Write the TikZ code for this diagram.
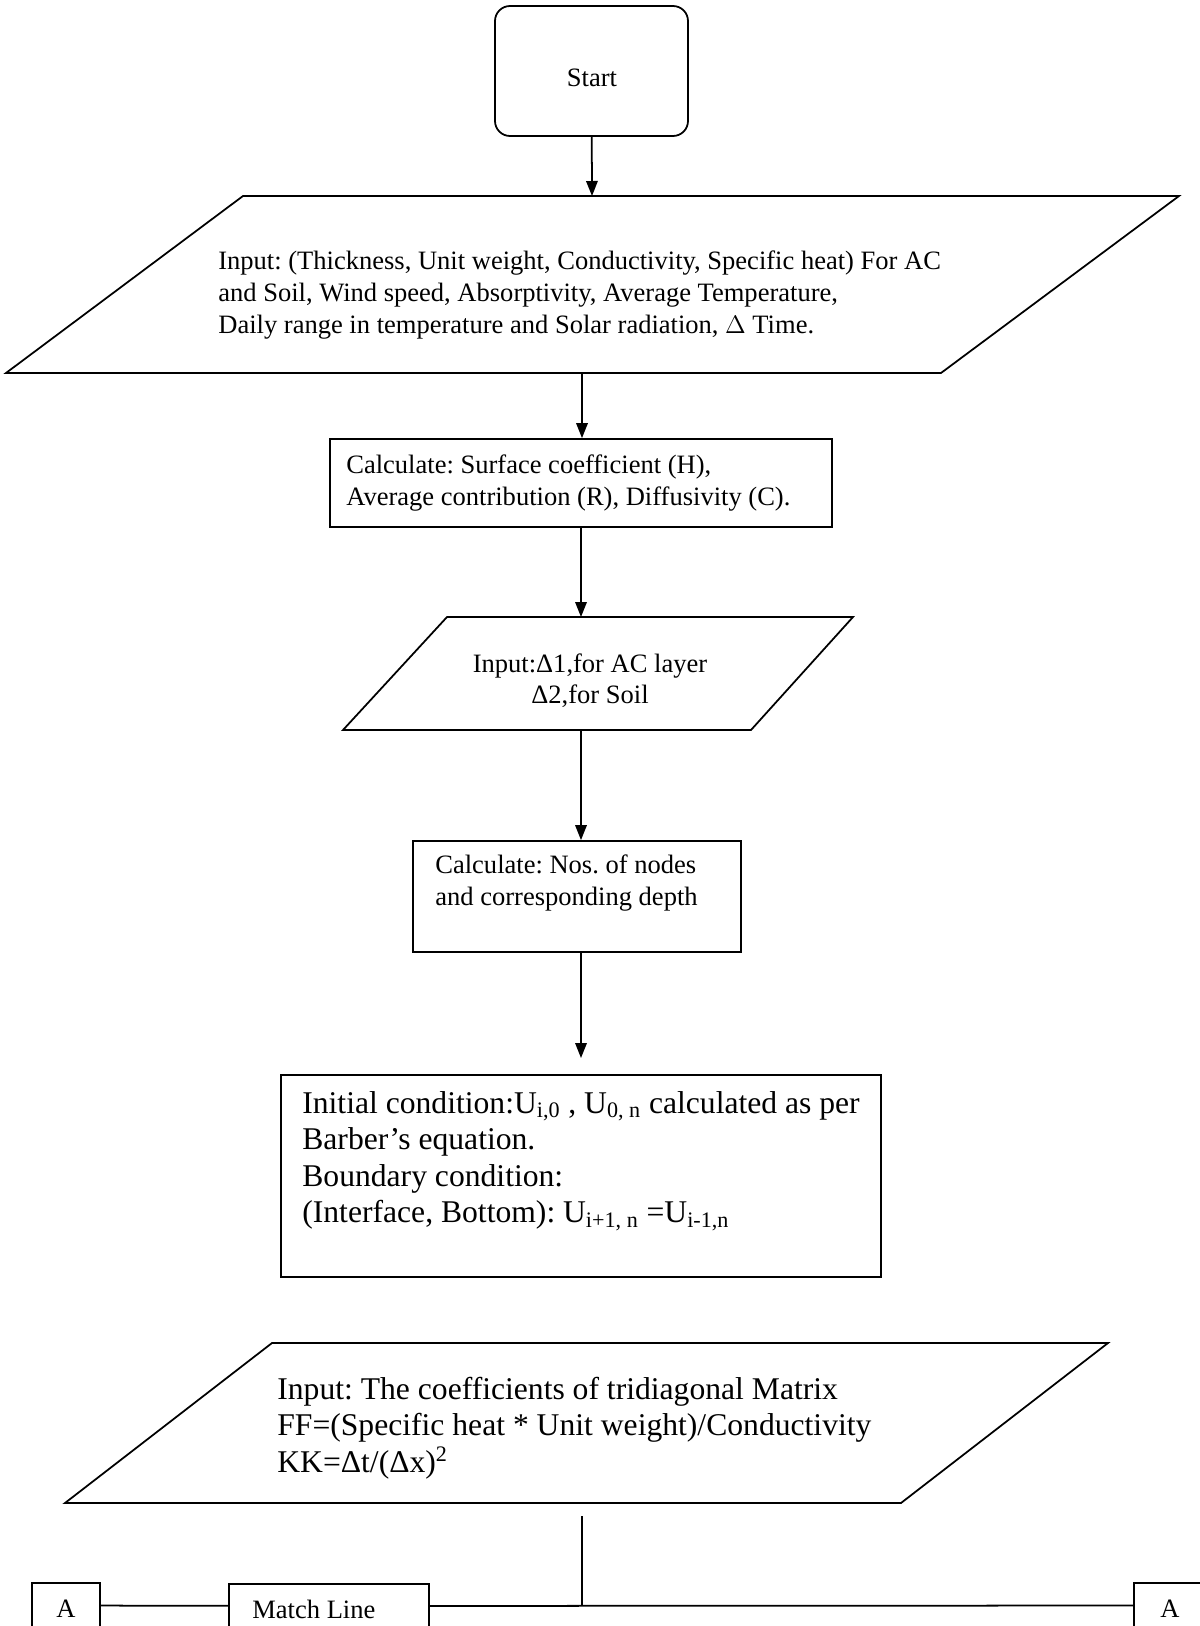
\documentclass[tikz,border=0pt]{standalone}
\usepackage{fontspec}
\setmainfont{Liberation Serif}
\usetikzlibrary{fit,arrows.meta}
\frenchspacing

\begin{document}
\begin{tikzpicture}[x=0.02cm, y=-0.02cm,
    box/.style={draw, line width=1pt, inner sep=0pt},
    flow/.style={draw, line width=1pt},
    arr/.style={flow, -{Triangle[length=0.3cm, width=0.23cm]}},
    txt/.style={inner sep=0pt, align=left, anchor=west},
    normal/.style={font=\fontsize{15.1}{17.8}\selectfont},
    big/.style={font=\fontsize{18}{20.8}\selectfont}]
        \clip (0,0) rectangle (1200,1626);

        % start
        \node[box, rounded corners=0.3cm, fit={(495,6) (688,136)}] (start) {};
        \node[normal] (startlbl) at (592,78) {Start};

        % first input
        \coordinate (in1n) at (592,196);
        \coordinate (in1s) at (582,373);
        \draw[flow] (243,196) -- (1179,196) -- (941,373) -- (6,373) -- cycle;
        \node[txt, font=\fontsize{15.1}{18.2}\selectfont] (in1lbl) at (218,295) {Input: (Thickness, Unit weight, Conductivity, Specific heat) For AC\\and Soil, Wind speed, Absorptivity, Average Temperature,\\Daily range in temperature and Solar radiation, $\Delta$ Time.};

        % coefficients
        \node[box, fit={(330,439) (832,527)}] (calc1) {};
        \node[txt, normal] (calc1lbl) at (346,483) {Calculate: Surface coefficient (H),\\Average contribution (R), Diffusivity (C).};

        % layer steps
        \coordinate (in2n) at (581,617);
        \coordinate (in2s) at (581,730);
        \draw[flow] (447,617) -- (853,617) -- (751,730) -- (343,730) -- cycle;
        \node[normal, align=center, inner sep=0pt] (in2lbl) at (590,681) {Input:Δ1,for AC layer\\Δ2,for Soil};

        % nodes
        \node[box, fit={(413,841) (741,952)}] (calc2) {};
        \node[txt, normal] (calc2lbl) at (435,883) {Calculate: Nos. of nodes\\and corresponding depth};

        % conditions
        \coordinate (initin) at (581,1058);
        \node[box, fit={(281,1075) (881,1277)}] (init) {};
        \node[txt, big] (initlbl) at (302,1161) {Initial condition:U\textsubscript{i,0} , U\textsubscript{0, n} calculated as per\\Barber’s equation.\\Boundary condition:\\(Interface, Bottom): U\textsubscript{i+1, n} =U\textsubscript{i-1,n}};

        % matrix
        \coordinate (in3s) at (582,1516);
        \draw[flow] (272,1343) -- (1108,1343) -- (901,1503) -- (65,1503) -- cycle;
        \node[txt, big] (in3lbl) at (277,1428) {Input: The coefficients of tridiagonal Matrix\\FF=(Specific heat * Unit weight)/Conductivity\\KK=Δt/(Δx)\textsuperscript{2}};

        % match line
        \node[box, fit={(32,1583) (100,1628)}] (aleft) {};
        \node[normal] (aleftlbl) at (66,1609) {A};
        \node[box, fit={(229,1584) (429,1628)}] (match) {};
        \node[txt, normal] (matchlbl) at (252,1609) {Match Line};
        \node[box, fit={(1134,1583) (1204,1628)}] (aright) {};
        \node[normal] (arightlbl) at (1170,1609) {A};

        \draw[arr] (start) -- (in1n);
        \draw[arr] (in1s) -- (in1s |- calc1.north);
        \draw[arr] (calc1) -- (in2n);
        \draw[arr] (in2s) -- (in2s |- calc2.north);
        \draw[arr] (initin |- calc2.south) -- (initin);
        \draw[flow] (in3s) -- (in3s |- match);
        \draw[flow] (aleft) -- (match);
        \draw[flow] (match) -- (aright);
    \end{tikzpicture}
\end{document}
